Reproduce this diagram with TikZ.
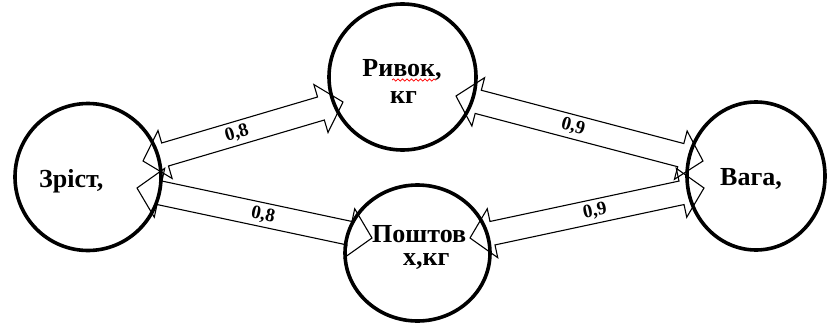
\documentclass[tikz,border=0pt]{standalone}
\usepackage{fontspec}
\setmainfont{Liberation Serif}
\usetikzlibrary{calc,shapes.geometric,decorations.pathmorphing}
\newcommand\blockarr[2]{%
  \path ($(#1)!23pt!(#2)$) coordinate (bA) ($(#2)!23pt!(#1)$) coordinate (bB);
  \draw[barr] (#1) -- ($(bA)!25pt!90:(#2)$) -- ($(bA)!12pt!90:(#2)$)
    -- ($(bB)!12pt!-90:(#1)$) -- ($(bB)!25pt!-90:(#1)$) -- (#2)
    -- ($(bB)!25pt!90:(#1)$) -- ($(bB)!12pt!90:(#1)$)
    -- ($(bA)!12pt!-90:(#2)$) -- ($(bA)!25pt!-90:(#2)$) -- cycle;}
\begin{document}
\begin{tikzpicture}[x=1pt,y=-1pt,
  ring/.style={draw, ellipse, line width=3.6pt, inner sep=0pt},
  lbl/.style={font=\fontsize{26}{28}\selectfont\bfseries, inner sep=0pt},
  num/.style={font=\fontsize{19}{21}\selectfont\bfseries, inner sep=0pt},
  barr/.style={draw, line width=1.1pt, line join=miter}]
\useasboundingbox (0,0) rectangle (827,324);
% circles
\node[ring, minimum width=146pt, minimum height=147pt] (zr) at (88,177) {};
\node[ring, minimum width=147pt, minimum height=146pt] (ryv) at (402.5,77) {};
\node[ring, minimum width=145pt, minimum height=136pt] (posh) at (417.5,253) {};
\node[ring, minimum width=138pt, minimum height=148pt] (vaga) at (756,176) {};
% texts
\node[lbl, anchor=base west] (tzr) at (39,187) {Зріст,};
\node[lbl, anchor=base] (tryv1) at (402,76) {Ривок,};
\node[lbl, anchor=base] (tryv2) at (403.5,103) {кг};
\node[lbl, anchor=base west] (tposh1) at (372,242) {Поштов};
\node[lbl, anchor=base west] (tposh2) at (403,265) {х,кг};
\node[lbl, anchor=base west] (tvaga) at (720,185) {Вага,};
\draw[red, line width=0.7pt, decorate, decoration={snake, amplitude=1.1pt, segment length=4.5pt}] (392,80) -- (436,80);
% arrow tips
\coordinate (a1) at (143,161); \coordinate (a2) at (343,102);
\coordinate (b1) at (137,188); \coordinate (b2) at (372,238);
\coordinate (c1) at (456,96);  \coordinate (c2) at (703,161);
\coordinate (d1) at (470,238); \coordinate (d2) at (704,188);
\blockarr{a1}{a2}
\blockarr{b1}{b2}
\blockarr{c1}{c2}
\blockarr{d1}{d2}
\path (a1) -- node[num, sloped, pos=.47] (la) {0,8} (a2);
\path (b1) -- node[num, sloped, pos=.536] (lb) {0,8} (b2);
\path (c1) -- node[num, sloped, pos=.474] (lc) {0,9} (c2);
\path (d1) -- node[num, sloped, pos=.534] (ld) {0,9} (d2);
\end{tikzpicture}
\end{document}
